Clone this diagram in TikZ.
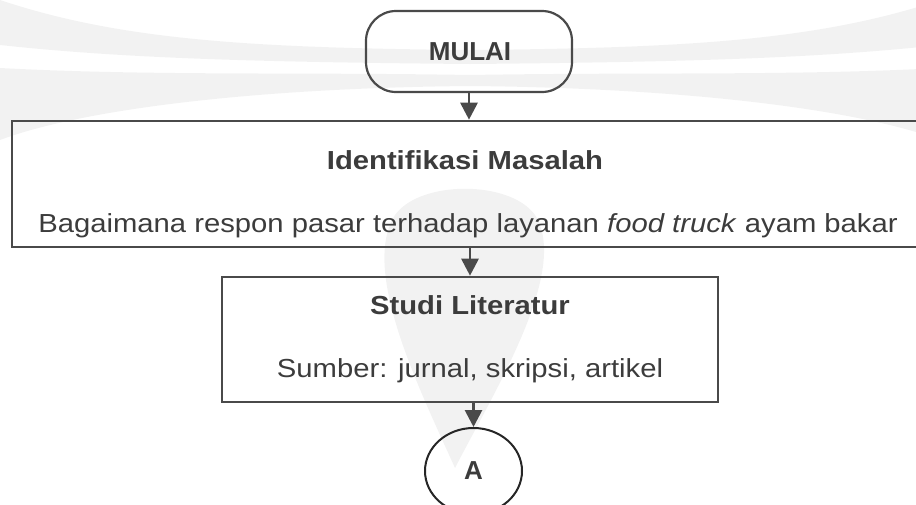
\documentclass[tikz,border=0pt]{standalone}
\usepackage{fontspec}
\setmainfont{Liberation Sans}[FakeStretch=1.12]
\newfontfamily\plainfont{Liberation Sans}
\usetikzlibrary{shapes.geometric,arrows.meta}
\definecolor{ln}{HTML}{4A4A4A}
\definecolor{tx}{HTML}{3C3C3C}
\definecolor{wm}{HTML}{F2F2F2}
\begin{document}
\begin{tikzpicture}[x=1pt,y=-1pt,
  box/.style={draw=ln,line width=2.6pt,rectangle,inner sep=0pt},
  lbl/.style={text=tx,anchor=base,inner sep=0pt,font=\fontsize{26.1}{30}\selectfont},
  ttl/.style={text=tx,anchor=base,inner sep=0pt,font=\fontsize{26.1}{30}\selectfont\bfseries},
  sym/.style={text=tx,anchor=base,inner sep=0pt,font=\plainfont\fontsize{26}{30}\selectfont\bfseries},
  arr/.style={draw=ln,line width=2.8pt,-{Triangle[length=17pt,width=17pt]}},
]
\useasboundingbox (0,0) rectangle (916,504);
% faint watermark
\begin{scope}
\clip (0,0) rectangle (916,504);
\fill[wm] (0,0) .. controls (120,40) and (250,48) .. (470,50) .. controls (690,48) and (820,40) .. (940,0)
  -- (940,45) .. controls (820,58) and (690,62) .. (470,64) .. controls (250,62) and (120,58) .. (0,45) -- cycle;
\fill[wm] (0,68) .. controls (150,76) and (300,72) .. (470,75) .. controls (640,72) and (790,76) .. (940,68)
  -- (940,140) .. controls (860,110) and (690,88) .. (470,86) .. controls (250,88) and (80,110) .. (0,140) -- cycle;
\fill[wm] (455,468) .. controls (420,390) and (360,270) .. (395,215) .. controls (420,180) and (510,180) .. (535,215)
  .. controls (570,270) and (495,390) .. (455,468) -- cycle;
\end{scope}
% shapes
\node[box, line width=2.2pt, minimum width=206pt, minimum height=81pt, rounded corners=30pt] (mulai) at (469,51.5) {};
\node[sym] (tmulai) at (470,60) {MULAI};
\node[box, minimum width=916pt, minimum height=126pt] (box1) at (470,184) {};
\node[ttl] (t1) at (465,169) {Identifikasi Masalah};
\node[lbl] (b1) at (468,232) {Bagaimana respon pasar terhadap layanan \textit{food truck} ayam bakar};
\node[box, minimum width=496pt, minimum height=125pt] (box2) at (470,339.5) {};
\node[ttl] (t2) at (470,314.5) {Studi Literatur};
\node[lbl] (b2) at (470,377) {Sumber: jurnal, skripsi, artikel};
\node[ellipse, draw=black!85, line width=2pt, minimum width=97pt, minimum height=86pt, inner sep=0pt] (circA) at (473.5,471) {};
\node[sym] (tA) at (473.5,479) {A};
% connectors
\draw[arr] (mulai.south) -- (mulai.south |- box1.north);
\draw[arr] (box1.south) -- (box2.north);
\draw[arr] (box2.south -| circA.north) -- (circA.north);
\end{tikzpicture}
\end{document}
